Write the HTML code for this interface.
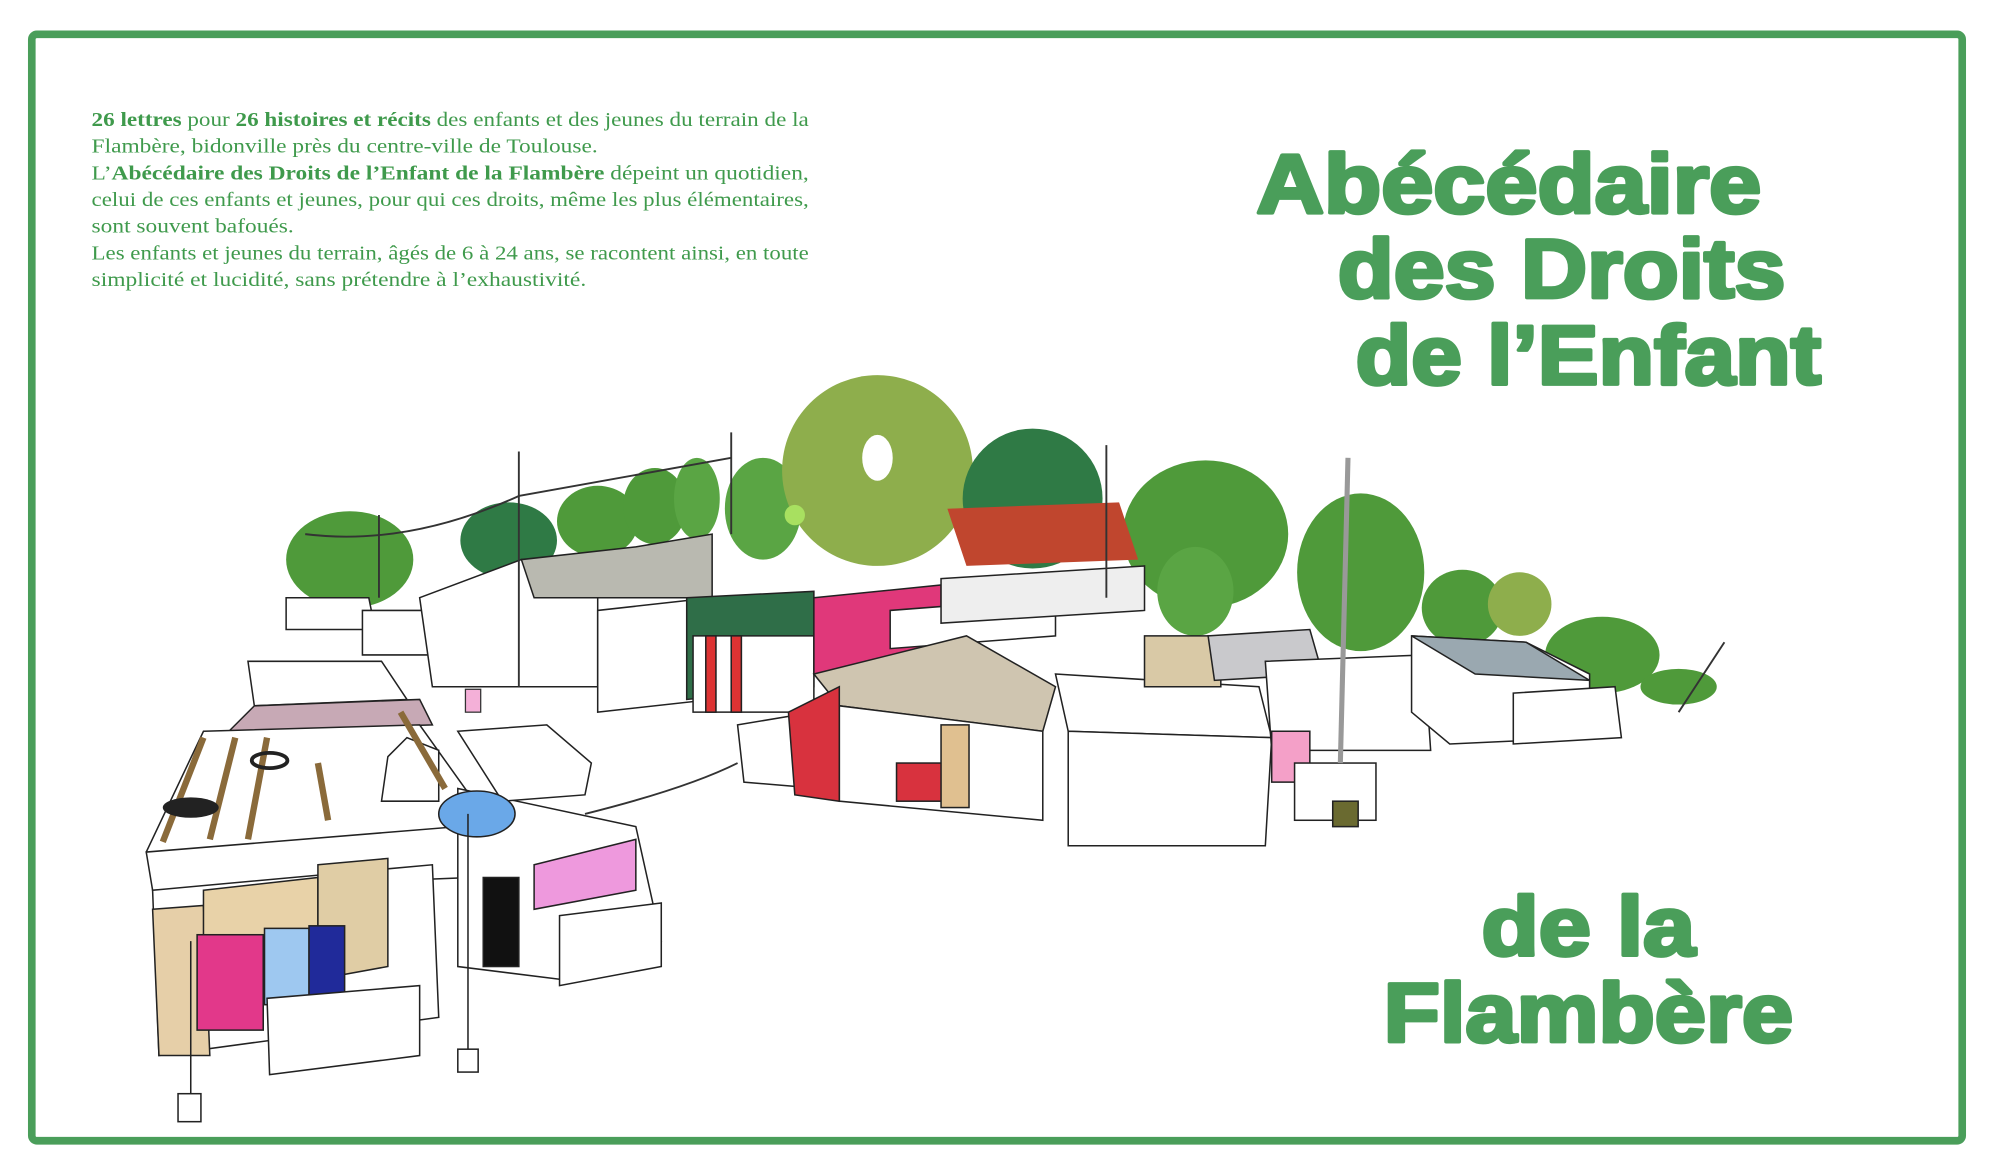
<!DOCTYPE html>
<html><head><meta charset="utf-8"><style>
html,body{margin:0;padding:0;background:#fff;}
svg{display:block;}
</style></head><body>
<svg width="1994" height="1170" viewBox="0 0 1568 920" preserveAspectRatio="none" xmlns="http://www.w3.org/2000/svg">
<rect x="0" y="0" width="1568" height="920" fill="#fff"/>
<rect x="25" y="27" width="1518" height="870" rx="4" fill="none" stroke="#4a9e5a" stroke-width="6"/>

<g font-family="Liberation Serif, serif" font-size="16" fill="#3f9a4c">
<text x="72" y="99" textLength="564" lengthAdjust="spacingAndGlyphs"><tspan font-weight="bold">26 lettres</tspan> pour <tspan font-weight="bold">26 histoires et récits</tspan> des enfants et des jeunes du terrain de la</text>
<text x="72" y="120" textLength="398" lengthAdjust="spacingAndGlyphs">Flambère, bidonville près du centre-ville de Toulouse.</text>
<text x="72" y="141" textLength="564" lengthAdjust="spacingAndGlyphs">L’<tspan font-weight="bold">Abécédaire des Droits de l’Enfant de la Flambère</tspan> dépeint un quotidien,</text>
<text x="72" y="162" textLength="564" lengthAdjust="spacingAndGlyphs">celui de ces enfants et jeunes, pour qui ces droits,  même les plus élémentaires,</text>
<text x="72" y="183" textLength="159" lengthAdjust="spacingAndGlyphs">sont souvent bafoués.</text>
<text x="72" y="204" textLength="564" lengthAdjust="spacingAndGlyphs">Les enfants et jeunes du terrain, âgés de 6 à 24 ans, se racontent ainsi, en toute</text>
<text x="72" y="225" textLength="389" lengthAdjust="spacingAndGlyphs">simplicité et lucidité, sans prétendre à l’exhaustivité.</text>
</g>

<g font-family="Liberation Sans, sans-serif" font-weight="bold" font-size="66" fill="#4a9e5a" stroke="#4a9e5a" stroke-width="3" stroke-linejoin="round">
<text x="988" y="167" textLength="397" lengthAdjust="spacingAndGlyphs">Abécédaire</text>
<text x="1052" y="234" textLength="352" lengthAdjust="spacingAndGlyphs">des Droits</text>
<text x="1066" y="302" textLength="366" lengthAdjust="spacingAndGlyphs">de l’Enfant</text>
<text x="1165" y="751" textLength="168" lengthAdjust="spacingAndGlyphs">de la</text>
<text x="1088" y="819" textLength="322" lengthAdjust="spacingAndGlyphs">Flambère</text>
</g>

<g stroke="none">
<ellipse cx="275" cy="440" rx="50" ry="38" fill="#4f9a3a"/>
<ellipse cx="400" cy="425" rx="38" ry="30" fill="#2f7a45"/>
<ellipse cx="470" cy="410" rx="32" ry="28" fill="#4f9a3a"/>
<ellipse cx="515" cy="398" rx="25" ry="30" fill="#4f9a3a"/>
<ellipse cx="548" cy="392" rx="18" ry="32" fill="#5aa544"/>
<ellipse cx="600" cy="400" rx="30" ry="40" fill="#5aa544"/>
<ellipse cx="690" cy="370" rx="75" ry="75" fill="#8eae4c"/>
<ellipse cx="812" cy="392" rx="55" ry="55" fill="#2f7a45"/>
<ellipse cx="948" cy="420" rx="65" ry="58" fill="#4f9a3a"/>
<ellipse cx="940" cy="465" rx="30" ry="35" fill="#5aa544"/>
<ellipse cx="1070" cy="450" rx="50" ry="62" fill="#4f9a3a"/>
<ellipse cx="1150" cy="478" rx="32" ry="30" fill="#4f9a3a"/>
<ellipse cx="1195" cy="475" rx="25" ry="25" fill="#8eae4c"/>
<ellipse cx="1260" cy="515" rx="45" ry="30" fill="#4f9a3a"/>
<ellipse cx="1320" cy="540" rx="30" ry="14" fill="#4f9a3a"/>
<ellipse cx="690" cy="360" rx="12" ry="18" fill="#fff"/>
<ellipse cx="625" cy="405" rx="8" ry="8" fill="#a8e060"/>
<polygon points="745,400 880,395 895,440 760,445" fill="#c0462e"/>
</g>

<g stroke="#222" stroke-width="1.2" fill="#fff">
<polygon points="225,470 290,470 295,495 225,495"/>
<polygon points="285,480 345,480 345,515 285,515"/>
<polygon points="330,470 410,440 470,440 470,540 340,540"/>
<polygon points="410,440 500,430 560,420 560,470 420,470" fill="#b9b9b0"/>
<polygon points="470,480 560,470 560,550 470,560"/>
<polygon points="540,470 640,465 640,540 540,550" fill="#2f6e48"/>
<polygon points="545,500 640,500 640,560 545,560" fill="#fff"/>
<rect x="555" y="500" width="8" height="60" fill="#d33"/>
<rect x="575" y="500" width="8" height="60" fill="#d33"/>
<polygon points="640,470 740,460 740,520 640,530" fill="#e0387a"/>
<polygon points="700,480 830,470 830,500 700,510"/>
<polygon points="740,455 900,445 900,480 740,490" fill="#eee"/>
<polygon points="640,530 760,500 830,540 820,575 660,555" fill="#cfc5b0"/>
<polygon points="660,555 820,575 820,645 660,630"/>
<rect x="705" y="600" width="36" height="30" fill="#d8323e"/>
<rect x="740" y="570" width="22" height="65" fill="#e0c090"/>
<polygon points="830,530 990,540 1000,580 840,575" fill="#fff"/>
<polygon points="840,575 1000,580 995,665 840,665"/>
<polygon points="900,500 960,500 960,540 900,540" fill="#d9c9a6"/>
<polygon points="950,500 1030,495 1040,530 955,535" fill="#c9c9cc"/>
<polygon points="995,520 1120,515 1125,590 1000,590"/>
<rect x="1000" y="575" width="30" height="40" fill="#f4a0c8"/>
<rect x="1018" y="600" width="64" height="45"/>
<rect x="1048" y="630" width="20" height="20" fill="#6a6a30"/>
<polygon points="1110,500 1200,505 1250,530 1250,580 1140,585 1110,560" fill="#fff"/>
<polygon points="1110,500 1200,505 1250,535 1160,530" fill="#9aa8b0"/>
<polygon points="1190,545 1270,540 1275,580 1190,585"/>
<polygon points="580,570 640,560 645,620 585,615"/>
<polygon points="620,560 660,540 660,630 625,625" fill="#d8323e"/>
<polygon points="195,520 300,520 320,550 200,555"/>
<polygon points="200,555 330,550 340,570 180,575" fill="#c7a9b5"/>
<polygon points="160,575 330,570 380,640 360,660 120,685 115,670" fill="#fff"/>
<polygon points="115,670 360,650 370,690 120,700"/>
<polygon points="120,700 340,680 345,800 125,830"/>
<polygon points="120,715 160,712 165,830 125,830" fill="#e6cfa8"/>
<polygon points="160,700 250,690 250,780 160,790" fill="#e8d2a8"/>
<polygon points="250,680 305,675 305,760 250,770" fill="#e0cda5"/>
<rect x="155" y="735" width="52" height="75" fill="#e2388a"/>
<rect x="208" y="730" width="35" height="60" fill="#9ec8f0"/>
<rect x="243" y="728" width="28" height="65" fill="#202a9a"/>
<polygon points="210,785 330,775 330,830 212,845"/>
<polygon points="360,620 500,650 520,740 440,770 360,760" fill="#fff"/>
<rect x="380" y="690" width="28" height="70" fill="#111"/>
<polygon points="420,680 500,660 500,700 420,715" fill="#e9d"/>
<polygon points="440,720 520,710 520,760 440,775"/>
<polygon points="360,575 430,570 465,600 460,625 395,630" fill="#fff"/>
<ellipse cx="375" cy="640" rx="30" ry="18" fill="#6aa8e8"/>
<polygon points="305,595 320,580 345,590 345,630 300,630"/>
<rect x="140" y="860" width="18" height="22"/>
<line x1="150" y1="740" x2="150" y2="860"/>
<line x1="368" y1="640" x2="368" y2="830"/>
<rect x="360" y="825" width="16" height="18"/>
</g>
<g stroke="#8a6a3a" stroke-width="5">
<line x1="160" y1="580" x2="128" y2="662"/>
<line x1="185" y1="580" x2="165" y2="660"/>
<line x1="210" y1="580" x2="195" y2="660"/>
<line x1="250" y1="600" x2="258" y2="645"/>
<line x1="315" y1="560" x2="350" y2="620"/>
</g>
<g fill="#222"><ellipse cx="150" cy="635" rx="22" ry="8"/><ellipse cx="212" cy="598" rx="14" ry="6" fill="none" stroke="#222" stroke-width="3"/></g>
<g stroke="#333" stroke-width="1.5" fill="#fff">
<line x1="408" y1="355" x2="408" y2="540"/>
<line x1="575" y1="340" x2="575" y2="420"/>
<line x1="1060" y1="360" x2="1054" y2="600" stroke-width="4" stroke="#999"/>
<line x1="1356" y1="505" x2="1320" y2="560"/>
<line x1="298" y1="405" x2="298" y2="470"/>
<line x1="870" y1="350" x2="870" y2="470"/>
<line x1="408" y1="390" x2="575" y2="360" fill="none"/>
<path d="M240,420 Q320,430 408,390" fill="none"/>
<path d="M460,640 Q540,620 580,600" fill="none"/>
</g>
<rect x="366" y="542" width="12" height="18" fill="#f4b0d8" stroke="#333"/>
</svg>
</body></html>
